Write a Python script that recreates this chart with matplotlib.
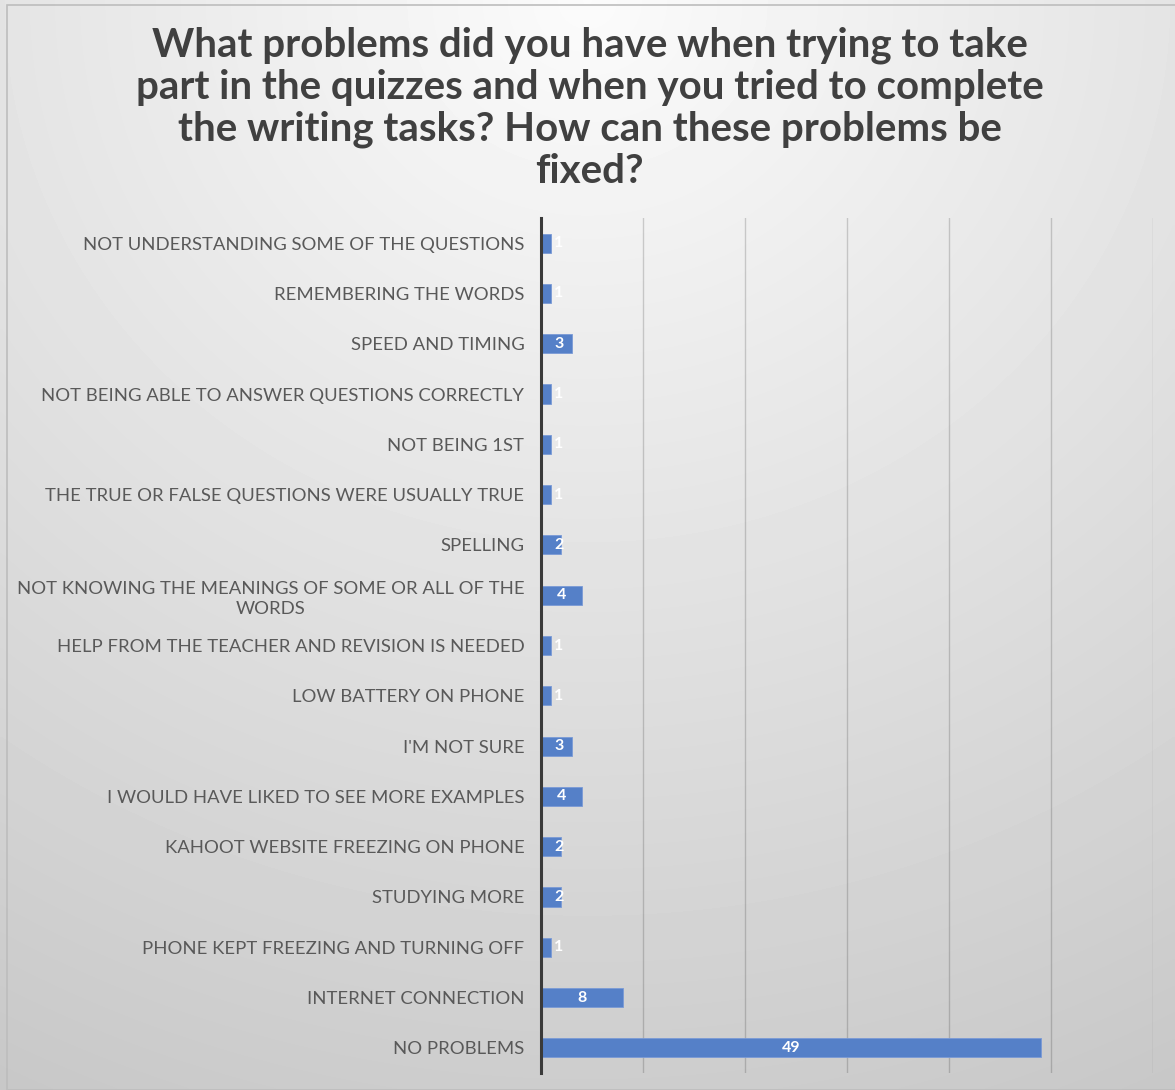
import matplotlib
matplotlib.use('Agg')
import matplotlib.pyplot as plt
from matplotlib.patches import Rectangle
import numpy as np

categories = [
    "NOT UNDERSTANDING SOME OF THE QUESTIONS",
    "REMEMBERING THE WORDS",
    "SPEED AND TIMING",
    "NOT BEING ABLE TO ANSWER QUESTIONS CORRECTLY",
    "NOT BEING 1ST",
    "THE TRUE OR FALSE QUESTIONS WERE USUALLY TRUE",
    "SPELLING",
    "NOT KNOWING THE MEANINGS OF SOME OR ALL OF THE\nWORDS",
    "HELP FROM THE TEACHER AND REVISION IS NEEDED",
    "LOW BATTERY ON PHONE",
    "I'M NOT SURE",
    "I WOULD HAVE LIKED TO SEE MORE EXAMPLES",
    "KAHOOT WEBSITE FREEZING ON PHONE",
    "STUDYING MORE",
    "PHONE KEPT FREEZING AND TURNING OFF",
    "INTERNET CONNECTION",
    "NO PROBLEMS",
]
counts = [1, 1, 3, 1, 1, 1, 2, 4, 1, 1, 3, 4, 2, 2, 1, 8, 49]

title = ("What problems did you have when trying to take\n"
         "part in the quizzes and when you tried to complete\n"
         "the writing tasks? How can these problems be\n"
         "fixed?")

plt.rcParams['font.family'] = ['Lato', 'DejaVu Sans']

fig = plt.figure(figsize=(11.75, 10.9), dpi=100)

# radial grey background
bg = fig.add_axes([0, 0, 1, 1], zorder=-10)
yy, xx = np.mgrid[0:1:300j, 0:1:300j]
r = np.sqrt((xx - 0.5) ** 2 + yy ** 2)
shade = 0.985 - 0.2 * np.clip(r / 1.1, 0, 1)
bg.imshow(shade, cmap='gray', vmin=0, vmax=1, extent=[0, 1, 0, 1],
          origin='upper', aspect='auto', interpolation='bilinear')
bg.set_xlim(0, 1)
bg.set_ylim(0, 1)
bg.axis('off')
fig.patches.append(Rectangle((7 / 1175, 0), 1.2, 1 - 5 / 1090,
                             transform=fig.transFigure, fill=False,
                             edgecolor='#bdbdbd', linewidth=1.2))

fig.text(0.502, 0.901, title, ha='center', va='center', fontsize=29,
         fontweight='bold', color='#404040', linespacing=1.16)

ax = fig.add_axes([541 / 1175, 1 - 1073 / 1090, 612 / 1175, 855 / 1090])
ax.patch.set_alpha(0)
y = np.arange(len(categories))
ax.barh(y, counts, height=0.38, color='#5580c8', edgecolor='#7a9ad6',
        linewidth=0.6, zorder=3)
for yi, v in zip(y, counts):
    ax.text(max(v / 2, 1.75), yi, str(v), ha='center', va='center',
            color='white', fontsize=11.5, fontweight='bold', zorder=4)

ax.set_xlim(0, 60)
ax.set_ylim(len(categories) - 0.5, -0.5)
ax.set_yticks(y)
ax.set_yticklabels(categories, fontsize=13.3, color='#595959',
                   multialignment='center', linespacing=1.3)
ax.tick_params(axis='y', length=0, pad=12)
ax.set_xticks(np.arange(10, 61, 10))
ax.tick_params(axis='x', length=0, labelbottom=False)
ax.grid(axis='x', color='black', alpha=0.17, linewidth=1.0, zorder=0)
for s in ['top', 'right', 'bottom']:
    ax.spines[s].set_visible(False)
ax.spines['left'].set_color('#3a3a3a')
ax.spines['left'].set_linewidth(2.2)
ax.spines['left'].set_zorder(5)

fig.savefig('out.png', dpi=100)
plt.close(fig)
